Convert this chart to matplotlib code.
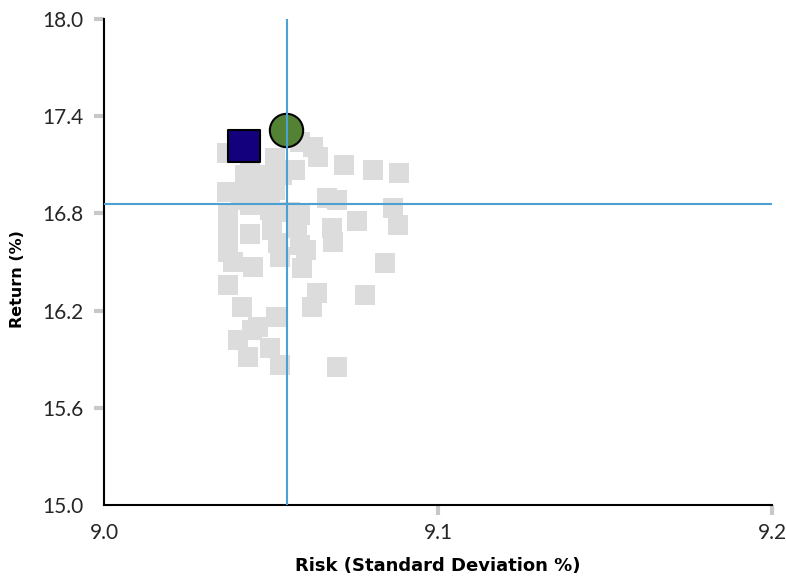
import matplotlib
matplotlib.use("Agg")
import matplotlib.pyplot as plt

# simulated portfolios (risk %, return %)
risk = [9.0368, 9.0437, 9.0512, 9.0587, 9.0626, 9.0641, 9.0719, 9.0805, 9.0883,
        9.0368, 9.0398, 9.0422, 9.0482, 9.0533, 9.0452, 9.0512, 9.0572,
        9.0668, 9.0698, 9.0865, 9.0880, 9.0757, 9.0683, 9.0686,
        9.0371, 9.0437, 9.0497, 9.0557, 9.0587, 9.0371, 9.0437, 9.0503, 9.0578,
        9.0371, 9.0386, 9.0446, 9.0521, 9.0527, 9.0587, 9.0593, 9.0841,
        9.0371, 9.0413, 9.0515, 9.0443, 9.0401, 9.0431, 9.0497, 9.0527,
        9.0638, 9.0623, 9.0781, 9.0698, 9.0605, 9.0460, 9.0410]
ret = [17.173, 17.130, 17.142, 17.241, 17.210, 17.148, 17.099, 17.068, 17.049,
       16.932, 16.932, 17.037, 17.037, 17.037, 16.944, 16.944, 17.068,
       16.895, 16.883, 16.833, 16.728, 16.753, 16.710, 16.623,
       16.802, 16.852, 16.821, 16.809, 16.790, 16.685, 16.673, 16.698, 16.710,
       16.562, 16.500, 16.469, 16.617, 16.531, 16.605, 16.463, 16.494,
       16.358, 16.222, 16.160, 16.080, 16.019, 15.914, 15.969, 15.864,
       16.309, 16.222, 16.296, 15.852, 16.574, 16.100, 16.880]

# highlighted portfolios
square_pt = (9.0419, 17.216)
circle_pt = (9.0545, 17.315)
# crosshair
cross_x = 9.0547
cross_y = 16.856

xticks = [9.0, 9.1, 9.2]
yticks = [15.0, 15.6, 16.2, 16.8, 17.4, 18.0]

plt.rcParams['font.family'] = ['Lato', 'DejaVu Sans']

fig = plt.figure(figsize=(7.86, 5.76), dpi=100)
ax = fig.add_axes([0.1323, 0.1233, 0.8499, 0.8437])

ax.scatter(risk, ret, marker='s', s=14.5 ** 2, color='#dcdcdc', linewidths=0, zorder=2)
ax.scatter([square_pt[0]], [square_pt[1]], marker='s', s=23 ** 2, color='#13007c',
           edgecolors='black', linewidths=1.5, zorder=3)
ax.scatter([circle_pt[0]], [circle_pt[1]], marker='o', s=24 ** 2, color='#548235',
           edgecolors='black', linewidths=1.5, zorder=3)
ax.axvline(cross_x, color='#4da0d2', lw=1.5, zorder=4)
ax.axhline(cross_y, color='#4da0d2', lw=1.5, zorder=4)

ax.set_xlim(9.0, 9.2)
ax.set_ylim(15.0, 18.0)
ax.set_xticks(xticks)
ax.set_yticks(yticks)
ax.set_xticklabels(['%.1f' % v for v in xticks])
ax.set_yticklabels(['%.1f' % v for v in yticks])

for s in ['top', 'right']:
    ax.spines[s].set_visible(False)
for s in ['left', 'bottom']:
    ax.spines[s].set_linewidth(1.5)
    ax.spines[s].set_color('black')

ax.tick_params(axis='both', length=7, width=3, color='#c8c8c8',
               labelsize=15, labelcolor='#262626')
ax.tick_params(axis='y', pad=8)
ax.tick_params(axis='x', pad=6)
ax.xaxis.get_major_ticks()[0].tick1line.set_visible(False)
ax.yaxis.get_major_ticks()[0].tick1line.set_visible(False)

ax.set_xlabel('Risk (Standard Deviation %)', fontsize=13, fontweight='bold',
              family=['DejaVu Sans'], labelpad=10)
ax.set_ylabel('Return (%)', fontsize=11.5, fontweight='bold',
              family=['DejaVu Sans'])
ax.yaxis.set_label_coords(-0.118, 0.465)

fig.savefig('out.png', dpi=100)
